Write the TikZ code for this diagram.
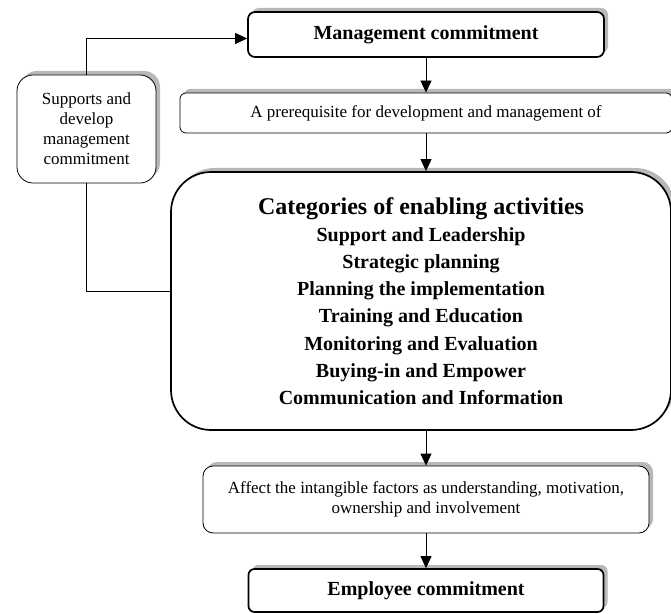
\documentclass[tikz,border=0pt]{standalone}
\usepackage{fontspec}
\setmainfont{Liberation Serif}
\usetikzlibrary{positioning}
\usetikzlibrary{arrows.meta}
\usetikzlibrary{shadows}

\begin{document}
\begin{tikzpicture}[x=1pt,y=1pt,node distance=80pt,on grid,
    box/.style={draw,fill=white,align=center,inner sep=0pt,line width=0.8pt,rounded corners=7pt,
      drop shadow={shadow xshift=4pt,shadow yshift=4pt,fill=black!28,opacity=1}},
    boldbox/.style={box,line width=1.7pt,font=\bfseries\fontsize{20}{24}\selectfont},
    plainbox/.style={box,font=\fontsize{17}{19.5}\selectfont},
    arr/.style={-{Triangle[length=12pt,width=11pt]},line width=0.8pt}]
   \useasboundingbox (0,0) rectangle (671,613);
   \node[boldbox,minimum width=356pt,minimum height=45pt] (mc) at (426,578.5) {Management commitment};
   \node[plainbox,minimum width=492pt,minimum height=40pt,rounded corners=6pt] (pre) [below=78.5pt of mc]
      {A prerequisite for development and management of};
   \node[box,line width=1.7pt,rounded corners=40pt,minimum width=500pt,minimum height=258pt,
      font=\bfseries\fontsize{20}{27.2}\selectfont] (cat) [below=188pt of pre,xshift=-5pt]
      {{\fontsize{24}{28}\selectfont Categories of enabling activities}\\
       Support and Leadership\\
       Strategic planning\\
       Planning the implementation\\
       Training and Education\\
       Monitoring and Evaluation\\
       Buying-in and Empower\\
       Communication and Information};
   \node[plainbox,minimum width=446pt,minimum height=67pt,rounded corners=10pt] (aff) [below=198.5pt of pre,yshift=-188pt]
      {Affect the intangible factors as understanding, motivation,\\ ownership and involvement};
   \node[boldbox,minimum width=355pt,minimum height=43pt,rounded corners=6pt] (ec) [below=91pt of aff] {Employee commitment};
   \node[plainbox,minimum width=139pt,minimum height=108pt,rounded corners=16pt,font=\fontsize{17}{20}\selectfont] (sup)
      [below left=94.5pt and 339.5pt of mc] {Supports and\\ develop\\ management\\ commitment};
   % main chain
   \draw[arr] (mc) -- (pre);
   \draw[arr] (pre) -- (pre.south |- cat.north);
   \draw[arr] (pre.south |- cat.south) -- (aff);
   \draw[arr] (aff) -- (ec);
   % feedback
   \draw[arr] (sup.north) |- ([yshift=-4pt]mc.west);
   \draw[line width=0.8pt] (sup.south) |- ([yshift=10pt]cat.west);
\end{tikzpicture}
\end{document}
